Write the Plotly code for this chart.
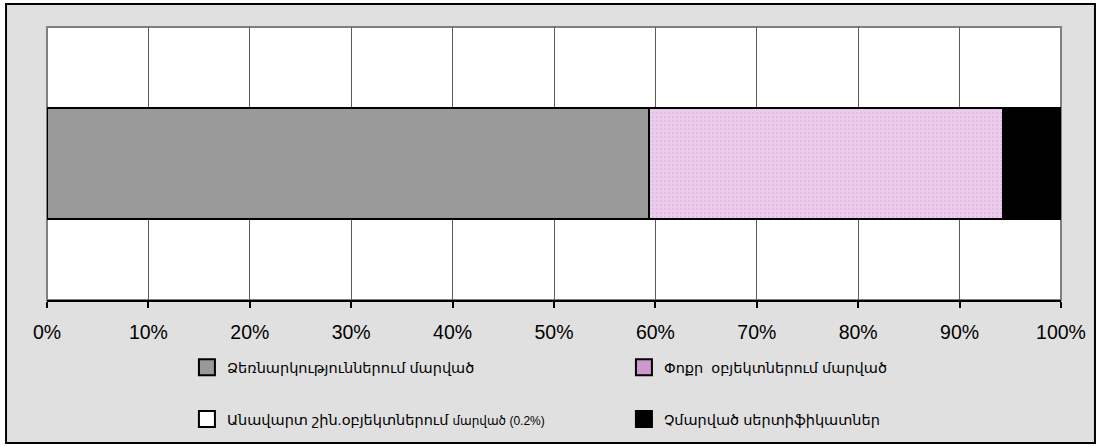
import plotly.graph_objects as go

# shares of certificates, percent of total
series_names = [
    "Ձեռնարկություններում մարված",
    "Փոքր  օբյեկտներում մարված",
    "Անավարտ շին.օբյեկտներում <span style='font-size:12px'>մարված (0.2%)</span>",
    "Չմարված սերտիֆիկատներ",
]
shares = [59.4, 34.9, 0.2, 5.5]
fill_colors = ["#999999", "#EBCDEB", "#FFFFFF", "#000000"]
legend_colors = ["#999999", "#CC99CC", "#FFFFFF", "#000000"]
legend_ids = ["legend", "legend", "legend2", "legend2"]
tick_vals = [0, 10, 20, 30, 40, 50, 60, 70, 80, 90, 100]
tick_text = [f"{v}%" for v in tick_vals]

FONT = "Liberation Sans, Arial, DejaVu Sans, sans-serif"

fig = go.Figure()
for name, val, col in zip(series_names, shares, fill_colors):
    pattern = dict(shape=".", fgcolor="#D7A9D7", size=4, solidity=0.25) if col == "#EBCDEB" else None
    fig.add_trace(go.Bar(
        y=[""], x=[val], name=name, orientation="h",
        marker=dict(color=col, line=dict(color="#000000", width=2), pattern=pattern),
        width=0.41, showlegend=False,
    ))

# legend entries (bigger square swatches than the default bar symbol)
for name, col, lg in zip(series_names, legend_colors, legend_ids):
    fig.add_trace(go.Scatter(
        x=[None], y=[None], mode="markers", name=name, legend=lg,
        marker=dict(symbol="square", size=16, color=col, line=dict(color="#000000", width=2)),
    ))

legend_common = dict(
    orientation="h", xanchor="left", yanchor="middle",
    entrywidth=392, entrywidthmode="pixels", bgcolor="rgba(0,0,0,0)",
    font=dict(size=14.5), traceorder="normal", itemsizing="trace",
)

fig.update_layout(
    width=1101, height=447,
    barmode="stack",
    margin=dict(l=47, r=40, t=27, b=147),
    paper_bgcolor="#FFFFFF",
    plot_bgcolor="#FFFFFF",
    font=dict(family=FONT, size=14, color="#000000"),
    xaxis=dict(
        range=[0, 100], tickvals=tick_vals, ticktext=tick_text,
        showgrid=True, gridcolor="#5A5A5A", gridwidth=1,
        showline=True, linecolor="#000000", linewidth=2,
        ticks="outside", ticklen=6, tickwidth=2, tickcolor="#000000",
        tickfont=dict(size=19.5), ticklabelstandoff=8, zeroline=False,
    ),
    yaxis=dict(range=[-0.5, 0.5], showticklabels=False, showgrid=False, zeroline=False),
    legend=dict(x=0.138, y=-0.247, **legend_common),
    legend2=dict(x=0.138, y=-0.436, **legend_common),
    showlegend=True,
)

# outer chart frame and plot area border
fig.add_shape(type="rect", xref="paper", yref="paper",
              x0=-0.0404, x1=1.0335, y0=-0.524, y1=1.084,
              fillcolor="#E0E0E0", line=dict(color="#000000", width=2), layer="below")
fig.add_shape(type="rect", xref="x domain", yref="y domain",
              x0=0, x1=1, y0=0, y1=1,
              fillcolor="#FFFFFF", line=dict(color="#808080", width=2), layer="below")

fig.write_html("out.html", config={"displayModeBar": False},
               post_script="document.body.style.margin='0px';")
